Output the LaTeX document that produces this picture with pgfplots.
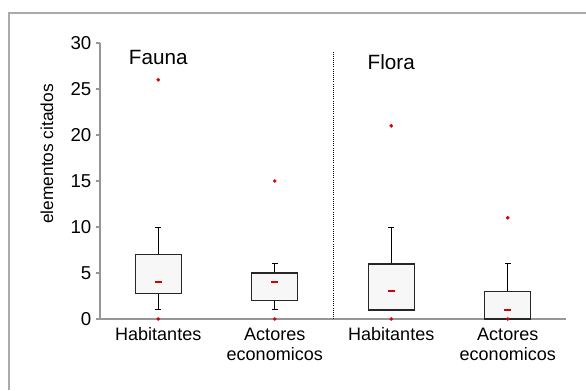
\documentclass[border=0pt]{standalone}
\usepackage{fontspec}
\setmainfont{Liberation Sans}
\usepackage{pgfplots}
\usepgfplotslibrary{statistics}
\pgfplotsset{compat=1.18}
\definecolor{mkred}{RGB}{215,0,0}
\definecolor{framegray}{RGB}{170,170,170}
\definecolor{axgray}{RGB}{150,150,150}
\begin{document}
\begin{tikzpicture}
\useasboundingbox (0,0) rectangle (439.5pt,292.5pt);
\draw[framegray, line width=1.3pt] (6.75pt,0) -- (6.75pt,282.75pt) -- (439.5pt,282.75pt);
\begin{axis}[
    at={(75pt,53.25pt)}, anchor=south west,
    scale only axis,
    width=349.5pt, height=207pt,
    xmin=0, xmax=4, ymin=0, ymax=30,
    axis x line=bottom, axis y line=left,
    axis line style={axgray, line width=0.8pt, -},
    tick style={axgray, line width=0.8pt},
    tick align=outside,
    major tick length=3pt,
    ytick={0,5,...,30},
    xtick={0.5,1.5,2.5,3.5},
    xticklabels={Habitantes, {Actores\\economicos}, Habitantes, {Actores\\economicos}},
    xticklabel style={align=center, font=\fontsize{13.5pt}{15.5pt}\selectfont},
    x tick style={draw=none},
    extra x ticks={0,1,2,3,4},
    extra x tick labels={},
    extra x tick style={tick style={axgray, line width=0.8pt, draw=axgray}, major tick length=3.5pt},
    yticklabel style={font=\fontsize{14pt}{15pt}\selectfont},
    /pgf/number format/assume math mode=true,
    ylabel={elementos citados},
    ylabel style={font=\fontsize{13pt}{14pt}\selectfont,
        at={(axis description cs:-0.114,0.598)}, anchor=center},
    boxplot/draw direction=y,
    boxplot/every whisker/.style={line width=0.7pt, draw=black},
    boxplot/every box/.style={line width=1.1pt, draw=black!85, fill=black!3},
    boxplot/every median/.style={draw=none},
    clip=false
]
\addplot[boxplot prepared={lower whisker=1, lower quartile=2.75, median=4,
    upper quartile=7, upper whisker=10, draw position=0.5,
    box extend=0.395, whisker extend=0.05},
    mark=*, mark size=1.3pt, mark options={draw=mkred, fill=mkred, line width=0.2pt}]
    coordinates {(0,0) (0,26)};
\addplot[boxplot prepared={lower whisker=1, lower quartile=2, median=4,
    upper quartile=5, upper whisker=6, draw position=1.5,
    box extend=0.395, whisker extend=0.05},
    mark=*, mark size=1.3pt, mark options={draw=mkred, fill=mkred, line width=0.2pt}]
    coordinates {(0,0) (0,15)};
\addplot[boxplot prepared={lower whisker=1, lower quartile=1, median=3,
    upper quartile=6, upper whisker=10, draw position=2.5,
    box extend=0.395, whisker extend=0.05},
    mark=*, mark size=1.3pt, mark options={draw=mkred, fill=mkred, line width=0.2pt}]
    coordinates {(0,0) (0,21)};
\addplot[boxplot prepared={lower whisker=0, lower quartile=0, median=1,
    upper quartile=3, upper whisker=6, draw position=3.5,
    box extend=0.395, whisker extend=0.05},
    mark=*, mark size=1.3pt, mark options={draw=mkred, fill=mkred, line width=0.2pt}]
    coordinates {(0,0) (0,11)};
% medians as short red dashes
\addplot[only marks, mark=-, mark size=2.7pt, mark options={line width=1.6pt, draw=mkred}]
    coordinates {(0.5,4) (1.5,4) (2.5,3) (3.5,1)};
\draw[densely dotted, line width=0.6pt] (axis cs:2,0) -- (axis cs:2,29.2);
\node[font=\fontsize{15.5pt}{17pt}\selectfont] at (axis cs:0.5,28.4) {Fauna};
\node[font=\fontsize{15.5pt}{17pt}\selectfont] at (axis cs:2.5,27.9) {Flora};
\end{axis}
\end{tikzpicture}
\end{document}
